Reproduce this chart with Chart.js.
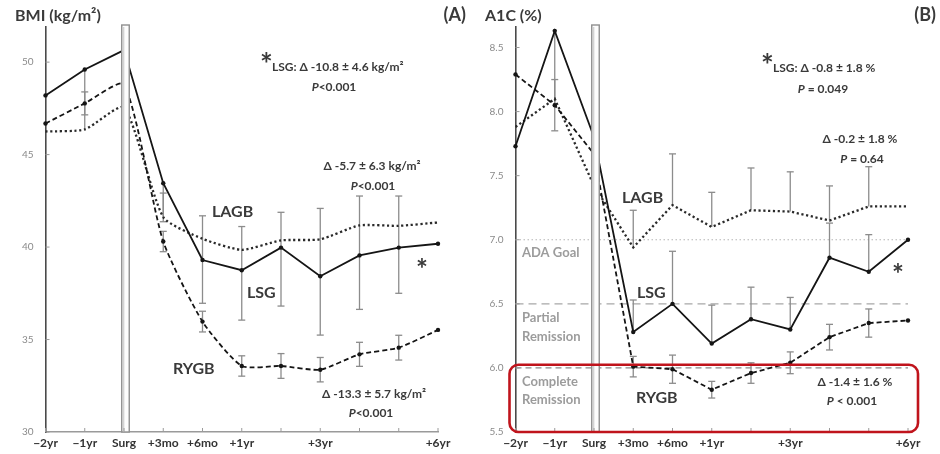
<!DOCTYPE html>
<html>
<head>
<meta charset="utf-8">
<script src="https://cdn.jsdelivr.net/npm/chart.js@4.4.1/dist/chart.umd.min.js"></script>
<style>
  html, body { margin: 0; padding: 0; background: #fff; }
  #wrap { position: relative; width: 940px; height: 454px; }
  .panel { position: absolute; top: 0; width: 470px; height: 454px; }
</style>
</head>
<body>
<div id="wrap">
  <div class="panel" style="left:0"><canvas id="bmi" width="470" height="454"></canvas></div>
  <div class="panel" style="left:470px"><canvas id="a1c" width="470" height="454"></canvas></div>
</div>
<script>
// Time points (pre-op years, surgery, post-op follow-up)
const timepoints = ['\u22122yr', '\u22121yr', 'Surg', '+3mo', '+6mo', '+1yr', '', '+3yr', '', '', '+6yr'];
const SURG_INDEX = 2;

// Panel A: BMI (kg/m2)
const bmiLSG  = [48.2, 49.6, 50.65, 43.45, 39.3, 38.75, 39.97, 38.42, 39.55, 39.97, 40.18];
const bmiRYGB = [46.68, 47.77, 48.8, 40.3, 35.97, 33.57, 33.57, 33.37, 34.2, 34.56, 35.52];
const bmiLAGB = [46.25, 46.36, 47.55, 41.62, 40.45, 39.85, 40.36, 40.42, 41.17, 41.15, 41.33];
// standard deviations drawn as error bars
const bmiLSGsd  = [null, null, null, 2.08, 2.34, 2.7, 3.16, 3.18, 2.92, 2.47, null];   // downward
const bmiRYGBsd = [null, 0.62, null, 0.55, 0.56, 0.55, 0.67, 0.66, 0.65, 0.67, null];  // both ways
const bmiLAGBsd = [null, null, null, 1.3, 1.24, 1.26, 1.52, 1.67, 1.59, 1.61, null];   // upward
const bmiStemIdx = [1, 4, 5, 6, 7, 8, 9];   // LSG bar runs up to the LAGB mean here
const bmiTicks = { min: 30, max: 51.9, step: 5 };

// Panel B: A1C (%)
const a1cLSG  = [7.73, 8.63, 7.8, 6.28, 6.5, 6.19, 6.38, 6.3, 6.86, 6.75, 7.0];
const a1cRYGB = [8.29, 8.05, 7.67, 6.01, 5.99, 5.83, 5.96, 6.04, 6.24, 6.35, 6.37];
const a1cLAGB = [7.88, 8.1, 7.42, 6.94, 7.27, 7.1, 7.23, 7.22, 7.15, 7.26, 7.26];
const a1cLSGsd  = [null, null, null, 0.25, 0.41, 0.3, 0.25, 0.25, 0.27, 0.29, null];   // upward
const a1cRYGBsd = [null, 0.2, null, 0.08, 0.11, 0.065, 0.08, 0.085, 0.1, 0.11, null]; // both ways
const a1cLAGBsd = [null, null, null, 0.29, 0.4, 0.27, 0.33, 0.31, 0.27, 0.31, null];  // upward
const a1cStemIdx = [1];                       // LSG bar runs down to the RYGB mean here
const a1cTicks = { min: 5.5, max: 8.66, step: 0.5 };
const a1cGoals = [
  { value: 7.0, dash: [1.5, 2.5], color: '#b5b5b5' },   // ADA goal
  { value: 6.5, dash: [8, 5], color: '#a8a8a8' },       // partial remission
  { value: 6.0, dash: [6, 4], color: '#8a8a8a' }        // complete remission
];
const remissionBoxTop = 6.025;

const FONT = 'Lato, "Open Sans", sans-serif';
const INK = '#3a3a3a';
const bold = s => `bold ${s}px ${FONT}`;
const ital = s => `italic bold ${s}px ${FONT}`;

function drawRuns(ctx, runs, x, y, align) {
  let w = 0;
  runs.forEach(r => { ctx.font = r.font; w += ctx.measureText(r.t).width; });
  let cx = align === 'center' ? x - w / 2 : (align === 'right' ? x - w : x);
  ctx.textAlign = 'left';
  ctx.textBaseline = 'alphabetic';
  runs.forEach(r => {
    ctx.font = r.font;
    ctx.fillStyle = r.color || INK;
    ctx.fillText(r.t, cx, y + (r.dy || 0));
    cx += ctx.measureText(r.t).width;
  });
}

// error bars, drawn under the lines
const errorBars = {
  id: 'errorBars',
  beforeDatasetsDraw(chart, args, opts) {
    const { ctx } = chart;
    const ys = chart.scales.y;
    const cap = 3.5;
    ctx.save();
    ctx.strokeStyle = '#8c8c8c';
    ctx.lineWidth = 1.3;
    ctx.setLineDash([]);
    const seg = (x1, y1, x2, y2) => { ctx.beginPath(); ctx.moveTo(x1, y1); ctx.lineTo(x2, y2); ctx.stroke(); };
    chart.data.datasets.forEach((ds, di) => {
      if (!ds.sd) return;
      const meta = chart.getDatasetMeta(di);
      ds.sd.forEach((s, i) => {
        if (s == null) return;
        const v = ds.data[i];
        const x = meta.data[i].x;
        const top = ds.sdDir === 'down' ? v : v + s;
        const bot = ds.sdDir === 'up' ? v : v - s;
        const yt = ys.getPixelForValue(top), yb = ys.getPixelForValue(bot);
        seg(x, yt, x, yb);
        if (ds.sdDir !== 'down') seg(x - cap, yt, x + cap, yt);
        if (ds.sdDir !== 'up') seg(x - cap, yb, x + cap, yb);
      });
    });
    (opts.stems || []).forEach(st => {
      const a = chart.getDatasetMeta(st.from), b = chart.getDatasetMeta(st.to);
      st.at.forEach(i => seg(a.data[i].x, a.data[i].y, b.data[i].x, b.data[i].y));
    });
    ctx.restore();
  }
};

// horizontal reference lines
const refLines = {
  id: 'refLines',
  beforeDatasetsDraw(chart, args, opts) {
    const { ctx, chartArea } = chart;
    const ys = chart.scales.y;
    ctx.save();
    (opts.lines || []).forEach(l => {
      const y = ys.getPixelForValue(l.value);
      ctx.strokeStyle = l.color;
      ctx.lineWidth = 1.2;
      ctx.setLineDash(l.dash);
      ctx.beginPath(); ctx.moveTo(chartArea.left, y); ctx.lineTo(chartArea.right, y); ctx.stroke();
    });
    ctx.restore();
  }
};

// surgery marker bar and inner tick marks
const surgeryBar = {
  id: 'surgeryBar',
  afterDatasetsDraw(chart, args, opts) {
    const { ctx, chartArea } = chart;
    const xs = chart.scales.x, ys = chart.scales.y;
    ctx.save();
    const xc = xs.getPixelForValue(opts.index) + 1.5;
    const w = 7.5, top = 25;
    ctx.fillStyle = '#fdfdfd';
    ctx.fillRect(xc - w / 2, top, w, chartArea.bottom - top);
    ctx.strokeStyle = '#8f8f8f';
    ctx.lineWidth = 1.4;
    ctx.strokeRect(xc - w / 2, top, w, chartArea.bottom - top);
    ctx.strokeStyle = '#c4c4c4';
    ctx.lineWidth = 1;
    ctx.beginPath(); ctx.moveTo(xc - w / 2 + 2, top + 2); ctx.lineTo(xc - w / 2 + 2, chartArea.bottom); ctx.stroke();
    // inner ticks
    ctx.strokeStyle = '#9a9a9a';
    ctx.lineWidth = 1;
    timepoints.forEach((t, i) => {
      const x = xs.getPixelForValue(i);
      ctx.beginPath(); ctx.moveTo(x, chartArea.bottom); ctx.lineTo(x, chartArea.bottom - 4); ctx.stroke();
    });
    ys.ticks.forEach(t => {
      const y = ys.getPixelForValue(t.value);
      ctx.beginPath(); ctx.moveTo(chartArea.left, y); ctx.lineTo(chartArea.left + 4, y); ctx.stroke();
    });
    ctx.restore();
  }
};

// titles, labels and statistics text
const annotations = {
  id: 'annotations',
  afterDraw(chart, args, opts) {
    const { ctx, chartArea } = chart;
    ctx.save();
    if (opts.box) {
      const ys = chart.scales.y;
      const x1 = chartArea.left - 6, x2 = chartArea.right + 10;
      const y1 = ys.getPixelForValue(opts.box.top), y2 = chartArea.bottom;
      const r = 9;
      ctx.strokeStyle = '#c0141c';
      ctx.lineWidth = 2.6;
      ctx.beginPath();
      ctx.moveTo(x1 + r, y1);
      ctx.arcTo(x2, y1, x2, y2, r);
      ctx.arcTo(x2, y2, x1, y2, r);
      ctx.arcTo(x1, y2, x1, y1, r);
      ctx.arcTo(x1, y1, x2, y1, r);
      ctx.closePath();
      ctx.stroke();
    }
    (opts.texts || []).forEach(t => drawRuns(ctx, t.runs, t.x, t.y, t.align || 'left'));
    ctx.restore();
  }
};

function makeDatasets(lsg, rygb, lagb, lsgSd, rygbSd, lagbSd, lsgDir, smooth) {
  return [
    { label: 'LSG', data: lsg, sd: lsgSd, sdDir: lsgDir, borderColor: '#151515', borderWidth: 1.8,
      pointRadius: 2.2, pointBackgroundColor: '#151515', pointBorderWidth: 0, tension: 0 },
    { label: 'RYGB', data: rygb, sd: rygbSd, sdDir: 'both', borderColor: '#151515', borderWidth: 1.8,
      borderDash: [5, 3], pointRadius: 2.2, pointBackgroundColor: '#151515', pointBorderWidth: 0, tension: smooth },
    { label: 'LAGB', data: lagb, sd: lagbSd, sdDir: 'up', borderColor: '#2a2a2a', borderWidth: 2.3,
      borderDash: [2.2, 2.6], pointRadius: 0, tension: smooth }
  ];
}

function makeChart(id, datasets, ticks, fmt, plugins) {
  return new Chart(document.getElementById(id), {
    type: 'line',
    data: { labels: timepoints, datasets },
    plugins: [refLines, errorBars, surgeryBar, annotations],
    options: {
      responsive: false,
      animation: false,
      devicePixelRatio: 1,
      layout: { padding: { left: 0, right: 32, top: 27, bottom: 0 } },
      plugins: Object.assign({ legend: { display: false }, tooltip: { enabled: false } }, plugins),
      scales: {
        x: {
          type: 'category', offset: false,
          grid: { display: false, drawTicks: false },
          border: { display: true, color: '#9a9a9a', width: 1.5 },
          ticks: { autoSkip: false, maxRotation: 0, padding: 4, color: '#333', font: { family: FONT, weight: 'bold', size: 12 } },
          afterFit: s => { s.height = 22; }
        },
        y: {
          min: ticks.min, max: ticks.max,
          grid: { display: false, drawTicks: false },
          border: { display: true, color: '#4a4a4a', width: 1.6 },
          ticks: { stepSize: ticks.step, includeBounds: false, padding: 12, color: '#8a8a8a',
                   font: { family: FONT, size: 10 }, callback: fmt },
          afterFit: s => { s.width = 45.5; }
        }
      }
    }
  });
}

const LBL = 16, STAT = 12;
const pLess = (x, y, txt) => ({ x, y, align: 'center', runs: [{ t: 'P', font: ital(STAT) }, { t: txt, font: bold(STAT) }] });

makeChart('bmi',
  makeDatasets(bmiLSG, bmiRYGB, bmiLAGB, bmiLSGsd, bmiRYGBsd, bmiLAGBsd, 'down', 0.2),
  bmiTicks, v => String(v),
  {
    errorBars: { stems: [{ from: 0, to: 2, at: bmiStemIdx }] },
    surgeryBar: { index: SURG_INDEX },
    annotations: {
      texts: [
        { x: 15, y: 21, runs: [{ t: 'BMI (kg/m²)', font: bold(16) }] },
        { x: 466, y: 21, align: 'right', runs: [{ t: '(A)', font: bold(18) }] },
        { x: 260, y: 75, runs: [{ t: '*', font: bold(30) }] },
        { x: 272, y: 71, runs: [{ t: 'LSG: Δ -10.8 ± 4.6 kg/m²', font: bold(STAT) }] },
        pLess(334, 91, '<0.001'),
        { x: 372, y: 170, align: 'center', runs: [{ t: 'Δ -5.7 ± 6.3 kg/m²', font: bold(STAT) }] },
        pLess(373, 190, '<0.001'),
        { x: 212, y: 217, runs: [{ t: 'LAGB', font: bold(LBL) }] },
        { x: 247, y: 298, runs: [{ t: 'LSG', font: bold(LBL) }] },
        { x: 173, y: 374, runs: [{ t: 'RYGB', font: bold(LBL) }] },
        { x: 422, y: 279, align: 'center', runs: [{ t: '*', font: bold(28) }] },
        { x: 374, y: 398, align: 'center', runs: [{ t: 'Δ -13.3 ± 5.7 kg/m²', font: bold(STAT) }] },
        pLess(371, 417, '<0.001')
      ]
    }
  });

const GRAY = '#9c9c9c';
makeChart('a1c',
  makeDatasets(a1cLSG, a1cRYGB, a1cLAGB, a1cLSGsd, a1cRYGBsd, a1cLAGBsd, 'up', 0),
  a1cTicks, v => Number(v).toFixed(1),
  {
    refLines: { lines: a1cGoals },
    errorBars: { stems: [{ from: 0, to: 1, at: a1cStemIdx }] },
    surgeryBar: { index: SURG_INDEX },
    annotations: {
      box: { top: remissionBoxTop },
      texts: [
        { x: 15, y: 21, runs: [{ t: 'A1C (%)', font: bold(16) }] },
        { x: 466, y: 21, align: 'right', runs: [{ t: '(B)', font: bold(18) }] },
        { x: 291, y: 76, runs: [{ t: '*', font: bold(30) }] },
        { x: 303, y: 72, runs: [{ t: 'LSG: Δ -0.8 ± 1.8 %', font: bold(STAT) }] },
        pLess(353, 93, ' = 0.049'),
        { x: 390, y: 143, align: 'center', runs: [{ t: 'Δ -0.2 ± 1.8 %', font: bold(STAT) }] },
        pLess(392, 163, ' = 0.64'),
        { x: 152, y: 203, runs: [{ t: 'LAGB', font: bold(LBL) }] },
        { x: 167, y: 298, runs: [{ t: 'LSG', font: bold(LBL) }] },
        { x: 166, y: 403, runs: [{ t: 'RYGB', font: bold(LBL) }] },
        { x: 428, y: 284, align: 'center', runs: [{ t: '*', font: bold(28) }] },
        { x: 385, y: 386, align: 'center', runs: [{ t: 'Δ -1.4 ± 1.6 %', font: bold(STAT) }] },
        pLess(382, 405, ' < 0.001'),
        { x: 52, y: 257, runs: [{ t: 'ADA Goal', font: bold(13), color: GRAY }] },
        { x: 52, y: 322, runs: [{ t: 'Partial', font: bold(13), color: GRAY }] },
        { x: 52, y: 341, runs: [{ t: 'Remission', font: bold(13), color: GRAY }] },
        { x: 52, y: 386, runs: [{ t: 'Complete', font: bold(13), color: GRAY }] },
        { x: 52, y: 404, runs: [{ t: 'Remission', font: bold(13), color: GRAY }] }
      ]
    }
  });
</script>
</body>
</html>
